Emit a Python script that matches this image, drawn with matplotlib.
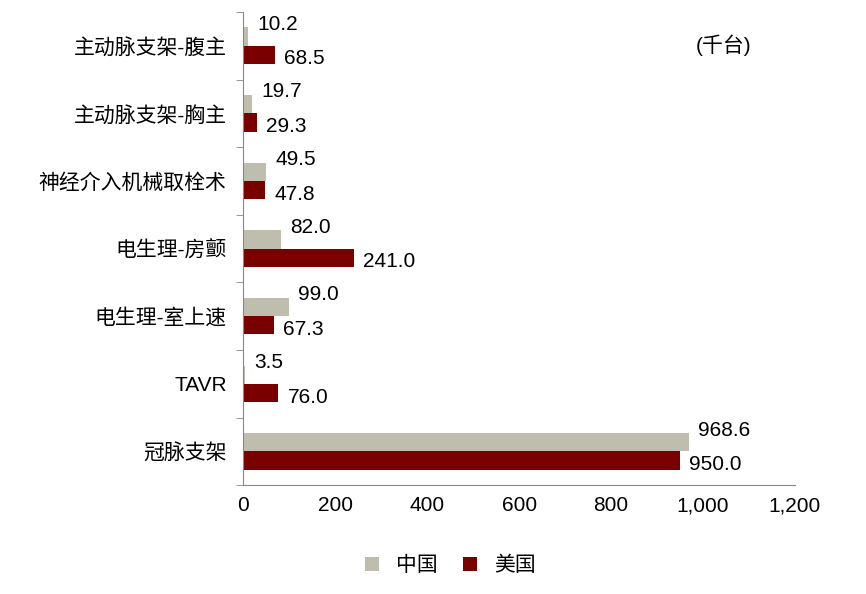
import numpy as np
import matplotlib
matplotlib.use('Agg')
from matplotlib import pyplot as plt
from matplotlib.ticker import FuncFormatter

plt.rcParams['font.family'] = ['Liberation Sans', 'Noto Sans CJK SC', 'DejaVu Sans']

categories = ['主动脉支架-腹主', '主动脉支架-胸主', '神经介入机械取栓术', '电生理-房颤',
              '电生理-室上速', 'TAVR', '冠脉支架']
china = [10.2, 19.7, 49.5, 82.0, 99.0, 3.5, 968.6]
usa = [68.5, 29.3, 47.8, 241.0, 67.3, 76.0, 950.0]

fig = plt.figure(figsize=(8.66, 5.94), dpi=100)
ax = fig.add_axes([0.281, 0.183, 0.637, 0.797])

y = np.arange(len(categories))
h = 0.27
ax.barh(y - h / 2, china, height=h, color='#BFBDAE', label='中国')
ax.barh(y + h / 2, usa, height=h, color='#7A0000', label='美国')

fs = 15
for i in range(len(categories)):
    ax.text(china[i] + 20, y[i] - h / 2 - 0.04, f'{china[i]:.1f}', va='bottom', ha='left', fontsize=fs)
    ax.text(usa[i] + 20, y[i] + h / 2 + 0.06, f'{usa[i]:.1f}', va='center', ha='left', fontsize=fs)

ax.set_ylim(len(categories) - 0.5, -0.5)
ax.set_xlim(0, 1200)
ax.set_xticks(range(0, 1201, 200))
ax.xaxis.set_major_formatter(FuncFormatter(lambda v, p: f'{int(v):,}'))
ax.set_yticks(y)
ax.set_yticklabels(categories, fontsize=fs)
ax.set_yticks(np.arange(-0.5, len(categories), 1), minor=True)
ax.tick_params(axis='y', which='major', length=0, pad=12)
ax.tick_params(axis='y', which='minor', length=5, color='#888888')
ax.tick_params(axis='x', length=0, labelsize=fs, pad=8)
for s in ['top', 'right']:
    ax.spines[s].set_visible(False)
for s in ['left', 'bottom']:
    ax.spines[s].set_color('#888888')

ax.text(985, 0.0, '(千台)', fontsize=fs, va='center', ha='left')

fig.legend(loc='lower center', bbox_to_anchor=(0.52, 0.0), ncol=2, frameon=False,
           fontsize=fs, handlelength=0.7, handleheight=0.7, columnspacing=1.2)
fig.savefig('out.png')
